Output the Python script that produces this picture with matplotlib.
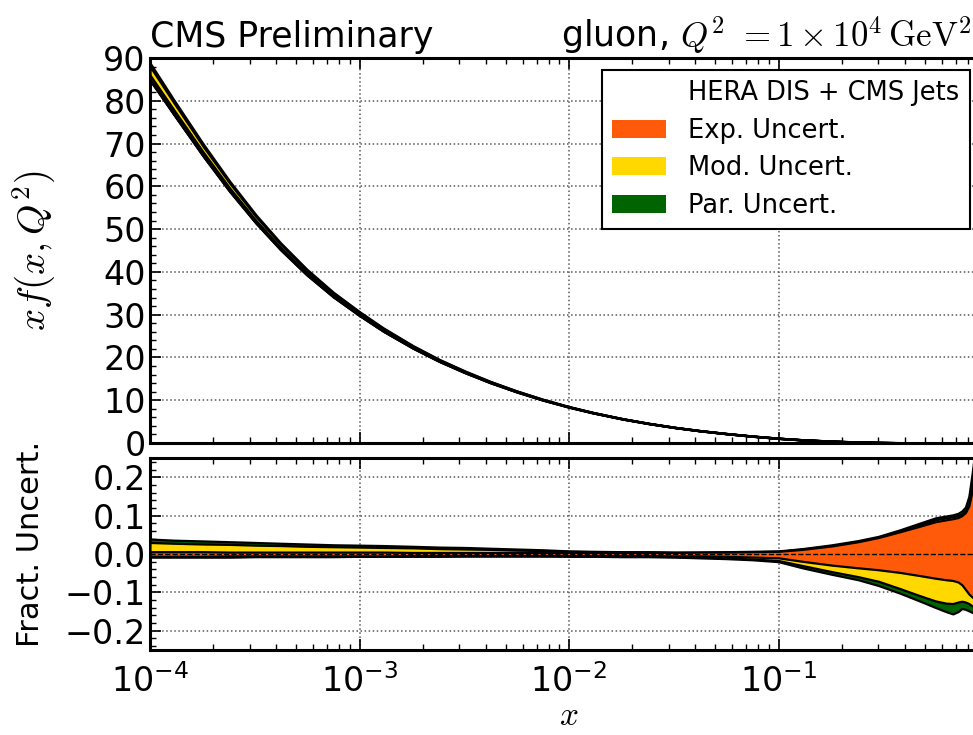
import matplotlib
matplotlib.use("Agg")

import matplotlib.pyplot as plt
from matplotlib.patches import Patch
from matplotlib.ticker import AutoMinorLocator, LogLocator, FixedLocator
import numpy as np

# ---------- DATA ----------
x = [1e-4, 1.3e-4, 1.8e-4, 2.4e-4, 3.2e-4, 4.2e-4, 5.6e-4, 7.5e-4,
     1e-3, 1.3e-3, 1.8e-3, 2.4e-3, 3.2e-3, 4.2e-3, 5.6e-3, 7.5e-3,
     1e-2, 1.3e-2, 1.8e-2, 2.4e-2, 3.2e-2, 4.2e-2, 5.6e-2, 7.5e-2,
     0.1, 0.13, 0.18, 0.24, 0.3, 0.38, 0.47, 0.56, 0.63, 0.68,
     0.72, 0.75, 0.78, 0.81, 0.84, 0.88, 0.92]

# central gluon xf(x,Q^2)
xg = [85.5, 77.4, 67.5, 59.3, 51.8, 45.5, 39.6, 34.4,
      30.0, 26.3, 22.3, 19.2, 16.5, 14.2, 12.05, 10.1,
      8.43, 7.09, 5.65, 4.57, 3.64, 2.89, 2.22, 1.61,
      1.11, 0.75, 0.42, 0.23, 0.13, 0.065, 0.03, 0.014, 0.008, 0.005,
      0.0035, 0.0028, 0.002, 0.0015, 0.001, 0.0006, 0.0003]

# fractional uncertainty band edges (exp, exp+mod, exp+mod+par)
exp_up = [0.006, 0.006, 0.006, 0.005, 0.005, 0.005, 0.005, 0.005,
          0.005, 0.005, 0.004, 0.004, 0.004, 0.004, 0.004, 0.004,
          0.004, 0.004, 0.004, 0.004, 0.004, 0.005, 0.005, 0.006,
          0.007, 0.012, 0.021, 0.032, 0.043, 0.058, 0.072, 0.084, 0.089, 0.092,
          0.095, 0.100, 0.108, 0.125, 0.165, 0.230, 0.300]
exp_dn = [-0.006, -0.006, -0.006, -0.005, -0.005, -0.005, -0.005, -0.005,
          -0.005, -0.005, -0.004, -0.004, -0.004, -0.004, -0.004, -0.004,
          -0.004, -0.004, -0.004, -0.004, -0.005, -0.005, -0.006, -0.008,
          -0.010, -0.019, -0.029, -0.036, -0.041, -0.048, -0.056, -0.063, -0.067, -0.069,
          -0.073, -0.080, -0.092, -0.104, -0.112, -0.118, -0.122]
mod_up = [0.030, 0.028, 0.026, 0.025, 0.023, 0.022, 0.020, 0.019,
          0.018, 0.017, 0.016, 0.014, 0.013, 0.012, 0.010, 0.009,
          0.007, 0.006, 0.005, 0.005, 0.004, 0.004, 0.005, 0.006,
          0.007, 0.013, 0.022, 0.033, 0.044, 0.060, 0.076, 0.089, 0.094, 0.097,
          0.100, 0.104, 0.112, 0.132, 0.185, 0.260, 0.330]
mod_dn = [-0.007, -0.007, -0.007, -0.007, -0.006, -0.006, -0.006, -0.006,
          -0.006, -0.006, -0.005, -0.005, -0.005, -0.005, -0.005, -0.005,
          -0.005, -0.005, -0.006, -0.006, -0.007, -0.008, -0.010, -0.013,
          -0.017, -0.030, -0.046, -0.059, -0.071, -0.090, -0.108, -0.122, -0.128, -0.129,
          -0.125, -0.123, -0.125, -0.129, -0.135, -0.140, -0.145]
tot_up = [0.039, 0.036, 0.034, 0.032, 0.030, 0.028, 0.026, 0.024,
          0.023, 0.022, 0.020, 0.018, 0.017, 0.015, 0.013, 0.011,
          0.008, 0.007, 0.006, 0.006, 0.005, 0.005, 0.006, 0.007,
          0.008, 0.014, 0.024, 0.035, 0.046, 0.063, 0.080, 0.094, 0.099, 0.102,
          0.106, 0.112, 0.122, 0.150, 0.210, 0.300, 0.400]
tot_dn = [-0.008, -0.008, -0.008, -0.008, -0.007, -0.007, -0.007, -0.007,
          -0.006, -0.006, -0.006, -0.006, -0.005, -0.005, -0.005, -0.005,
          -0.006, -0.006, -0.007, -0.007, -0.008, -0.010, -0.012, -0.015,
          -0.020, -0.036, -0.053, -0.067, -0.082, -0.102, -0.122, -0.139, -0.150, -0.156,
          -0.150, -0.142, -0.144, -0.148, -0.152, -0.158, -0.162]

xticks = [1e-4, 1e-3, 1e-2, 1e-1]
xticklabels = [r"$\mathregular{10^{-4}}$", r"$\mathregular{10^{-3}}$",
               r"$\mathregular{10^{-2}}$", r"$\mathregular{10^{-1}}$"]

labels = ["HERA DIS + CMS Jets", "Exp. Uncert.", "Mod. Uncert.", "Par. Uncert."]
c_exp = "#ff5a0a"
c_mod = "#ffd800"
c_par = "#006400"

# ---------- STYLE ----------
plt.rcParams["font.family"] = ["DejaVu Sans"]
plt.rcParams["mathtext.fontset"] = "cm"
plt.rcParams["axes.linewidth"] = 2.2

# ---------- PLOT ----------
fig = plt.figure(figsize=(9.73, 7.35), dpi=100)
ax1 = fig.add_axes([150 / 973, 1 - 443 / 735, 838 / 973, 385 / 735])
ax2 = fig.add_axes([150 / 973, 1 - 650 / 735, 838 / 973, 192 / 735], sharex=ax1)

xa = np.array(x)
xg_a = np.array(xg)

bands = [(tot_dn, tot_up, c_par), (mod_dn, mod_up, c_mod), (exp_dn, exp_up, c_exp)]
for lo, hi, col in bands:
    ax1.fill_between(xa, xg_a * (1 + np.array(lo)), xg_a * (1 + np.array(hi)),
                     facecolor=col, edgecolor="k", lw=1.7, zorder=3)
    ax2.fill_between(xa, lo, hi, facecolor=col, edgecolor="k", lw=1.6, zorder=3)
ax2.axhline(0, color="k", ls="--", lw=1, zorder=4)

for ax in (ax1, ax2):
    ax.set_xscale("log")
    ax.set_xlim(1e-4, 1)
    ax.grid(True, which="major", ls=":", color="0.35", lw=1.1)
    ax.tick_params(which="both", direction="in", top=True, right=True, labelsize=24)
    ax.tick_params(which="major", length=8, width=1.2)
    ax.tick_params(which="minor", length=4, width=1)
    ax.yaxis.set_minor_locator(AutoMinorLocator(5))
    ax.xaxis.set_minor_locator(LogLocator(base=10, subs=np.arange(2, 10)))

ax1.set_ylim(0, 90)
ax1.set_yticks(range(0, 91, 10))
ax1.tick_params(labelbottom=False, pad=3)
ax2.set_ylim(-0.25, 0.25)
ax2.set_yticks([-0.2, -0.1, 0.0, 0.1, 0.2])
ax2.set_yticklabels(["\u22120.2", "\u22120.1", "0.0", "0.1", "0.2"])
ax2.tick_params(axis="y", pad=3)
ax2.xaxis.set_major_locator(FixedLocator(xticks))
ax2.set_xticklabels(xticklabels)
ax2.tick_params(axis="x", pad=10)

ax1.set_ylabel(r"$xf(x,Q^2)$", fontsize=28)
ax1.yaxis.set_label_coords(-0.11, 0.5)
ax2.set_ylabel("Fract. Uncert.", fontsize=22)
ax2.yaxis.set_label_coords(-0.125, 0.55)
fig.text(569 / 973, 1 - 732 / 735, r"$x$", fontsize=24, ha="center", va="bottom")

fig.text(150 / 973, 1 - 47 / 735, "CMS Preliminary", fontsize=25, ha="left", va="baseline")
fig.text(972 / 973, 1 - 47 / 735, r"gluon, $Q^2$ $=1\times10^4\,\mathrm{GeV}^2$",
         fontsize=25, ha="right", va="baseline")

handles = [Patch(facecolor="none", edgecolor="none"),
           Patch(facecolor=c_exp, edgecolor="none"),
           Patch(facecolor=c_mod, edgecolor="none"),
           Patch(facecolor=c_par, edgecolor="none")]
leg = ax1.legend(handles, labels, loc="upper left", bbox_to_anchor=(602 / 973, 1 - 70 / 735),
                 bbox_transform=fig.transFigure, borderaxespad=0, fontsize=18.5,
                 fancybox=False, framealpha=1, edgecolor="k", handlelength=2.1,
                 handleheight=0.7, handletextpad=0.85, labelspacing=0.45, borderpad=0.4)
leg.get_frame().set_linewidth(1.5)
leg.set_zorder(10)

fig.savefig("out.png", dpi=100)
